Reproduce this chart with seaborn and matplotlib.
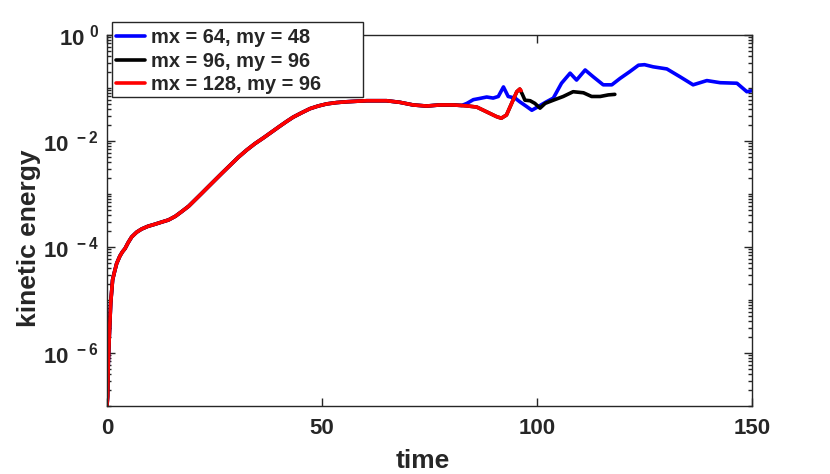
import numpy as np
import pandas as pd
import matplotlib
matplotlib.use("Agg")
import matplotlib.pyplot as plt
import seaborn as sns
from matplotlib.patches import Rectangle
from matplotlib.ticker import LogLocator, FixedLocator, NullFormatter

# ---- data ----
# early growth phase shared by all three runs (time, log10 kinetic energy)
common_t = [0.0, 0.15, 0.3, 0.53, 0.86, 1.3, 1.8, 2.25, 3.0, 3.6, 4.19, 4.9, 5.74, 6.9,
            8.07, 9.5, 11.16, 12.7, 14.3, 15.9, 17.4, 19.0, 20.5, 22.0, 23.6, 26.7,
            28.6, 30.5, 32.5, 34.4, 36.4, 38.3, 40.2, 41.8, 43.3, 45.2, 47.2, 49.1,
            51.1, 53.4, 55.7, 58.0, 60.4, 65.0, 68.1, 71.2, 74.3, 77.4, 80.5, 82.5]
common_logE = [-7.0, -6.82, -6.19, -5.69, -5.06, -4.62, -4.45, -4.31, -4.17, -4.09,
               -4.03, -3.92, -3.81, -3.72, -3.66, -3.61, -3.57, -3.53, -3.49, -3.42,
               -3.33, -3.23, -3.11, -2.99, -2.86, -2.61, -2.46, -2.31, -2.17, -2.05,
               -1.94, -1.83, -1.72, -1.63, -1.55, -1.47, -1.39, -1.34, -1.30, -1.275,
               -1.26, -1.25, -1.24, -1.24, -1.27, -1.32, -1.34, -1.32, -1.32, -1.33]

# segment shared by the black and red runs
rb_t = [84.0, 86.0, 88.3, 90.6, 91.7, 92.9, 94.1, 95.3, 96.0]
rb_logE = [-1.34, -1.36, -1.45, -1.54, -1.57, -1.51, -1.29, -1.07, -1.02]

blue_t = [83.7, 85.2, 86.5, 88.3, 89.8, 91.0, 92.2, 93.3, 94.9, 96.0, 97.6, 98.8, 100.3,
          102.2, 103.8, 105.7, 107.7, 109.2, 111.2, 113.1, 115.4, 117.4, 119.3, 121.6,
          123.6, 125.0, 127.0, 130.2, 133.3, 136.3, 139.5, 142.6, 146.5, 148.8, 150.0]
blue_logE = [-1.29, -1.22, -1.20, -1.17, -1.19, -1.16, -0.98, -1.16, -1.19, -1.26, -1.35,
             -1.42, -1.35, -1.26, -1.19, -0.91, -0.72, -0.85, -0.66, -0.79, -0.94, -0.94,
             -0.82, -0.69, -0.57, -0.56, -0.60, -0.64, -0.79, -0.94, -0.86, -0.90, -0.91,
             -1.07, -1.05]

black_t = [96.6, 97.2, 98.4, 99.5, 100.7, 101.9, 103.8, 106.1, 108.4, 110.8, 112.7,
           114.7, 116.6, 118.1]
black_logE = [-1.12, -1.23, -1.24, -1.29, -1.38, -1.29, -1.23, -1.16, -1.07, -1.09, -1.16,
              -1.16, -1.13, -1.12]

red_t = [96.3]
red_logE = [-1.05]

labels = ["mx = 64, my = 48", "mx = 96, my = 96", "mx = 128, my = 96"]
colors = ["#0000ff", "#000000", "#ff0000"]

# ---- assemble ----
series = {
    labels[0]: (common_t + blue_t, common_logE + blue_logE),
    labels[1]: (common_t + rb_t + black_t, common_logE + rb_logE + black_logE),
    labels[2]: (common_t + rb_t + red_t, common_logE + rb_logE + red_logE),
}
rows = []
for lab in labels:
    tt, ll = series[lab]
    for a, b in zip(tt, ll):
        rows.append({"time": a, "E": 10.0 ** b, "run": lab})
df = pd.DataFrame(rows)

sns.set_theme(style="white")
plt.rcParams["font.family"] = ["Liberation Sans", "DejaVu Sans"]
plt.rcParams["mathtext.fontset"] = "custom"
plt.rcParams["mathtext.bf"] = "Liberation Sans:bold"
plt.rcParams["mathtext.rm"] = "Liberation Sans"

W, H = 830, 474
fig = plt.figure(figsize=(W / 100, H / 100), dpi=100)
ax = fig.add_axes([107 / W, (H - 406) / H, (752 - 107) / W, (406 - 35) / H])

sns.lineplot(data=df, x="time", y="E", hue="run", hue_order=labels, palette=colors,
             units="run", estimator=None, sort=False, linewidth=2.6, ax=ax)

ax.set_yscale("log")
ax.set_xlim(0, 150)
ax.set_ylim(1e-7, 1e0)

ax.xaxis.set_major_locator(FixedLocator([0, 50, 100, 150]))
ax.yaxis.set_major_locator(FixedLocator([1e-6, 1e-4, 1e-2, 1e0]))
ax.yaxis.set_minor_locator(LogLocator(base=10, subs=np.arange(1, 10), numticks=50))
ax.yaxis.set_minor_formatter(NullFormatter())
ax.set_xticklabels(["0", "50", "100", "150"], fontweight="bold")
ax.set_yticklabels([r"$\mathbf{10^{\ -6}}$", r"$\mathbf{10^{\ -4}}$",
                    r"$\mathbf{10^{\ -2}}$", r"$\mathbf{10^{\ 0}}$"])

ax.tick_params(axis="both", which="both", direction="in", top=True, right=True,
               left=True, bottom=True, colors="#262626", labelcolor="#262626",
               labelsize=16, width=1)
ax.tick_params(axis="both", which="major", length=6)
ax.tick_params(axis="y", which="minor", length=3)
ax.tick_params(axis="x", which="major", pad=9)
ax.tick_params(axis="y", which="major", pad=6)
for s in ax.spines.values():
    s.set_color("#262626")
    s.set_linewidth(1.0)
    s.set_visible(True)

ax.set_xlabel("time", fontsize=19, fontweight="bold", color="#262626")
ax.set_ylabel("kinetic energy", fontsize=19, fontweight="bold", color="#262626")
ax.xaxis.set_label_coords(0.49, -0.115)
ax.xaxis.label.set_va("top")
ax.yaxis.set_label_coords(-0.102, 0.453)

# legend frame (MATLAB style, wider than its text)
frame = Rectangle((112 / W, (H - 97) / H), (363 - 112) / W, (97 - 22) / H,
                  transform=fig.transFigure, facecolor="white", edgecolor="#262626",
                  linewidth=1.0, clip_on=False, zorder=4)
ax.add_patch(frame)

leg = ax.legend(loc="upper left", bbox_to_anchor=(0.007, 1.029),
                prop={"weight": "bold", "size": 14.4}, frameon=False,
                handlelength=1.45, handletextpad=0.3, borderpad=0.2, labelspacing=0.22,
                borderaxespad=0.0)
leg.set_zorder(5)
for line in leg.get_lines():
    line.set_linewidth(2.6)

fig.savefig("out.png", dpi=100, facecolor="white")
